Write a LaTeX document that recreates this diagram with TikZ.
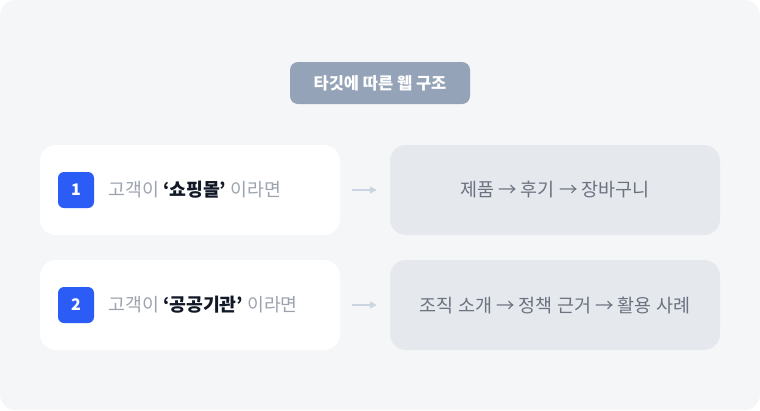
\documentclass[tikz,border=0pt]{standalone}
\usepackage{fontspec}
\setmainfont{Noto Sans CJK KR}
\usepackage{tikz}
\usetikzlibrary{positioning,arrows.meta}
\tikzset{>={Triangle[length=7pt,width=7pt]}}
\definecolor{pagebg}{HTML}{F5F6F8}
\definecolor{titleslate}{HTML}{94A3B8}
\definecolor{badgeblue}{HTML}{2B5CF5}
\definecolor{softgray}{HTML}{9CA3AF}
\definecolor{strong}{HTML}{111827}
\definecolor{boxgray}{HTML}{E5E8EC}
\definecolor{pathtext}{HTML}{6B7280}
\definecolor{arrowgray}{HTML}{CBD5E1}

\begin{document}
\begin{tikzpicture}[x=1pt,y=-1pt,
    heading/.style={fill=titleslate,rounded corners=8pt,minimum width=180pt,minimum height=42pt,text=white,font=\bfseries\fontsize{16.5}{19}\selectfont},
    card/.style={fill=white,rounded corners=16pt,minimum width=300pt,minimum height=90pt},
    badge/.style={fill=badgeblue,rounded corners=6pt,minimum size=36pt,inner sep=0pt,text=white,font=\bfseries\fontsize{16}{19}\selectfont},
    cardtext/.style={anchor=west,inner sep=0pt,text=softgray,font=\fontsize{18.3}{22}\selectfont},
    pathbox/.style={fill=boxgray,rounded corners=16pt,minimum width=330pt,minimum height=90pt,text=pathtext,font=\fontsize{18.5}{22}\selectfont},
    flow/.style={->,draw=arrowgray,line width=1.5pt,shorten <=12pt,shorten >=13pt}]
  % page
  \fill[white] (0,0) rectangle (760,410);
  \fill[pagebg,rounded corners=16pt] (0,0) rectangle (760,410);
  \node[heading] (title) at (380,83) {타깃에 따른 웹 구조};

  % row 1
  \node[card] (card1) at (190,190) {};
  \node[badge] (badge1) at (76,190) {1};
  \node[cardtext,right=14pt of badge1] (label1) {고객이 {\bfseries\color{strong}‘쇼핑몰’} 이라면};
  \node[pathbox] (path1) at (555,190) {제품 → 후기 → 장바구니};
  \draw[flow] (card1) -- (path1);

  % row 2
  \node[card] (card2) at (190,305) {};
  \node[badge] (badge2) at (76,305) {2};
  \node[cardtext,right=14pt of badge2] (label2) {고객이 {\bfseries\color{strong}‘공공기관’} 이라면};
  \node[pathbox] (path2) at (555,305) {조직 소개 → 정책 근거 → 활용 사례};
  \draw[flow] (card2) -- (path2);
\end{tikzpicture}
\end{document}
